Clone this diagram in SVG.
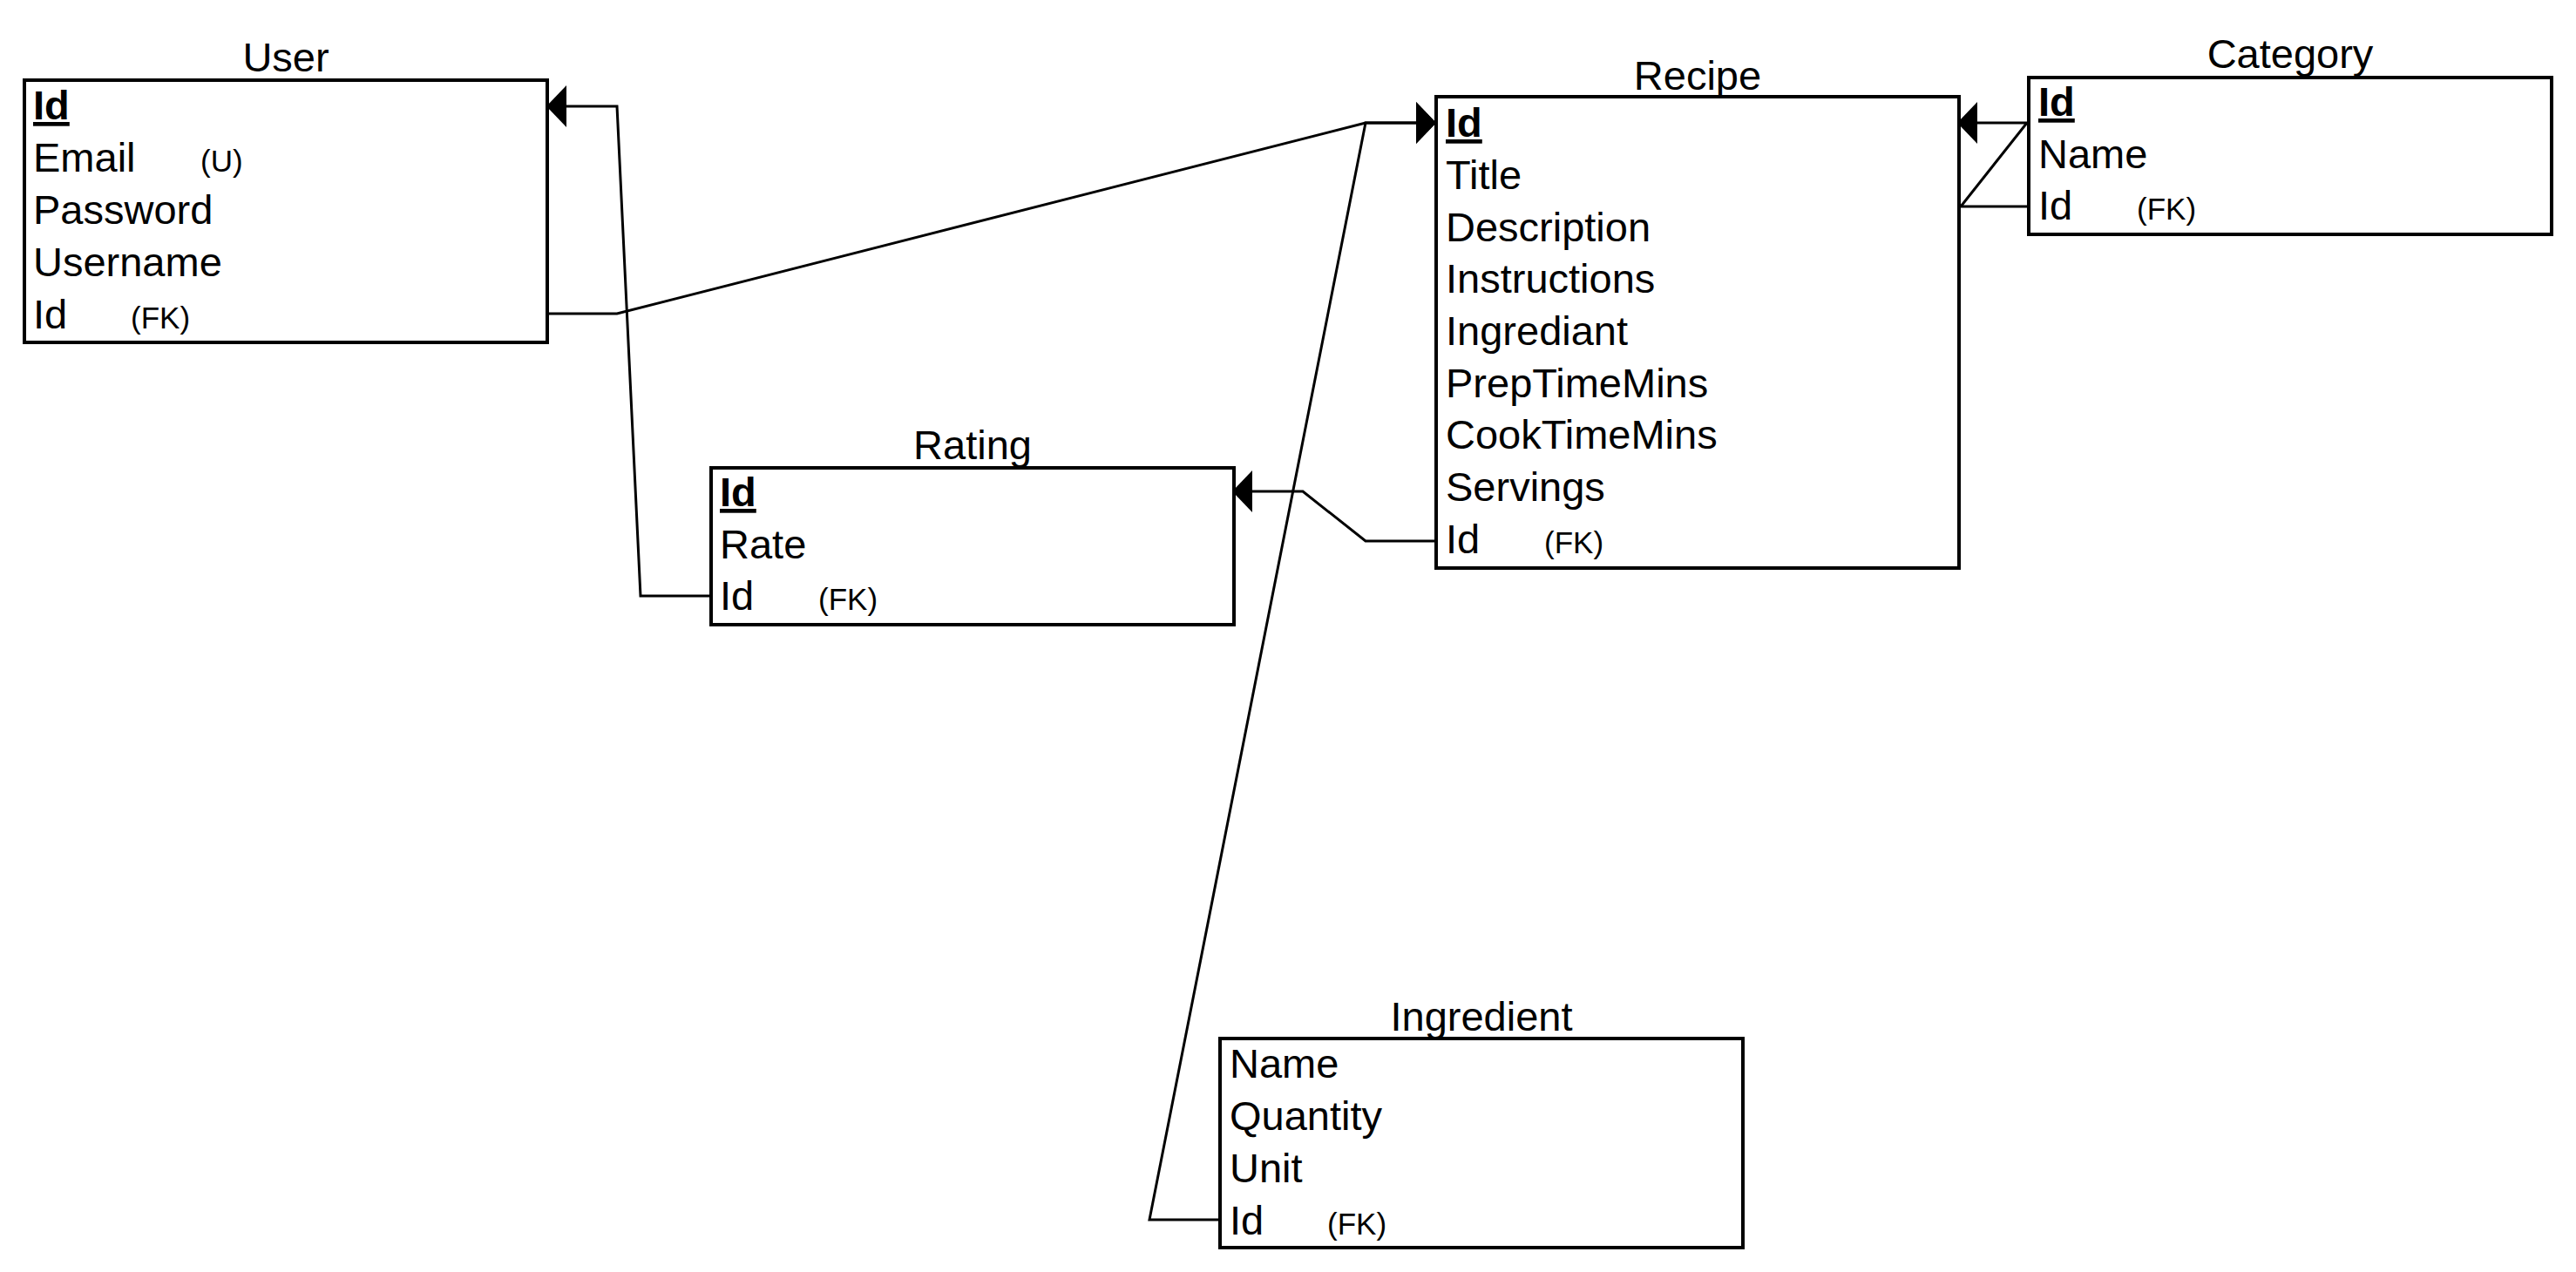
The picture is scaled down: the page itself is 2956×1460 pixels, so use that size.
<svg xmlns="http://www.w3.org/2000/svg" width="2956" height="1460" viewBox="0 0 2956 1460">
<style>
  .box { fill: #ffffff; stroke: #000000; stroke-width: 4; }
  .title { font-family: "Liberation Sans", Arial, sans-serif; font-size: 47px; fill: #000; text-anchor: middle; }
  .f { font-family: "Liberation Sans", Arial, sans-serif; font-size: 47px; fill: #000; }
  .pk { font-family: "Liberation Sans", Arial, sans-serif; font-size: 47px; font-weight: bold; fill: #000; text-decoration: underline; }
  .tag { font-family: "Liberation Sans", Arial, sans-serif; font-size: 35px; fill: #000; }
  .conn { fill: none; stroke: #000000; stroke-width: 3; stroke-linejoin: miter; }
</style>
<defs>
  <marker id="arr" markerUnits="userSpaceOnUse" markerWidth="24" markerHeight="48" refX="23" refY="24" orient="auto" viewBox="0 0 24 48">
    <path d="M0,0 L23,24 L0,48 Z" fill="#000"/>
  </marker>
</defs>
<rect width="2956" height="1460" fill="#ffffff"/>

<g id="connectors">
  <path class="conn" d="M816 684 L735 684 L708 122 L627 122" marker-end="url(#arr)"/>
  <path class="conn" d="M628 360 L708 360 L1567 141 L1648 141" marker-end="url(#arr)"/>
  <path class="conn" d="M1400 1400 L1319 1400 L1567 141 L1648 141" marker-end="url(#arr)"/>
  <path class="conn" d="M1648 621 L1567 621 L1495 564 L1414 564" marker-end="url(#arr)"/>
  <path class="conn" d="M2328 237 L2250 237 L2326 141 L2246 141" marker-end="url(#arr)"/>
</g>

<g id="user">
  <text class="title" x="328" y="82">User</text>
  <rect class="box" x="28" y="92" width="600" height="301"/>
  <text class="pk" x="38" y="137">Id</text>
  <text class="f" x="38" y="197">Email</text><text class="tag" x="230" y="197">(U)</text>
  <text class="f" x="38" y="257">Password</text>
  <text class="f" x="38" y="317">Username</text>
  <text class="f" x="38" y="377">Id</text><text class="tag" x="150" y="377">(FK)</text>
</g>

<g id="rating">
  <text class="title" x="1116" y="527">Rating</text>
  <rect class="box" x="816" y="537" width="600" height="180"/>
  <text class="pk" x="826" y="581">Id</text>
  <text class="f" x="826" y="641">Rate</text>
  <text class="f" x="826" y="700">Id</text><text class="tag" x="939" y="700">(FK)</text>
</g>

<g id="recipe">
  <text class="title" x="1948" y="103">Recipe</text>
  <rect class="box" x="1648" y="111" width="600" height="541"/>
  <text class="pk" x="1659" y="157">Id</text>
  <text class="f" x="1659" y="217">Title</text>
  <text class="f" x="1659" y="277">Description</text>
  <text class="f" x="1659" y="336">Instructions</text>
  <text class="f" x="1659" y="396">Ingrediant</text>
  <text class="f" x="1659" y="456">PrepTimeMins</text>
  <text class="f" x="1659" y="515">CookTimeMins</text>
  <text class="f" x="1659" y="575">Servings</text>
  <text class="f" x="1659" y="635">Id</text><text class="tag" x="1772" y="635">(FK)</text>
</g>

<g id="category">
  <text class="title" x="2628" y="78">Category</text>
  <rect class="box" x="2328" y="89" width="600" height="180"/>
  <text class="pk" x="2339" y="133">Id</text>
  <text class="f" x="2339" y="193">Name</text>
  <text class="f" x="2339" y="252">Id</text><text class="tag" x="2452" y="252">(FK)</text>
</g>

<g id="ingredient">
  <text class="title" x="1700" y="1183">Ingredient</text>
  <rect class="box" x="1400" y="1192" width="600" height="240"/>
  <text class="f" x="1411" y="1237">Name</text>
  <text class="f" x="1411" y="1297">Quantity</text>
  <text class="f" x="1411" y="1357">Unit</text>
  <text class="f" x="1411" y="1417">Id</text><text class="tag" x="1523" y="1417">(FK)</text>
</g>
</svg>
